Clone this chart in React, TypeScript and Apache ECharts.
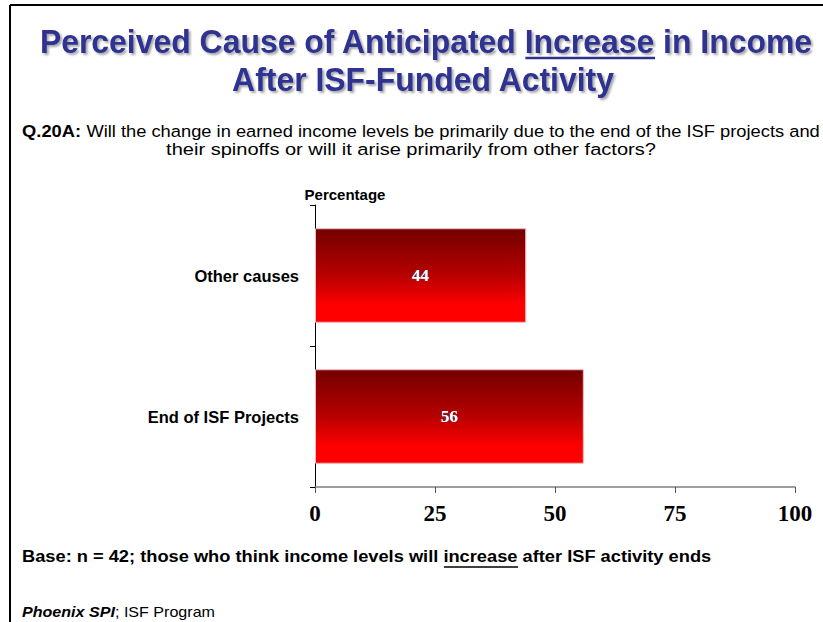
import React, { useEffect, useRef } from "react";
import * as echarts from "echarts";

const categories = ["Other causes", "End of ISF Projects"];
const values = [44, 56];
const xTicks = [0, 25, 50, 75, 100];

const TITLE_1_PRE = "Perceived Cause of Anticipated ";
const TITLE_1_U = "Increase";
const TITLE_1_POST = " in Income";
const TITLE_2 = "After ISF-Funded Activity";
const Q_BOLD = "Q.20A:";
const Q_LINE1 = " Will the change in earned income levels be primarily due to the end of the ISF projects and";
const Q_LINE2 = "their spinoffs or will it arise primarily from other factors?";
const BASE_PRE = "Base: n = 42; those who think income levels will ";
const BASE_U = "increase";
const BASE_POST = " after ISF activity ends";
const FOOT_BOLD = "Phoenix SPI";
const FOOT_REST = "; ISF Program";

const SANS = 'Arial, "Liberation Sans", sans-serif';
const SERIF = '"Liberation Serif", "Times New Roman", serif';

function measure(text: string, font: string): number {
  const c = document.createElement("canvas");
  const ctx = c.getContext("2d");
  if (!ctx) return text.length * 8;
  ctx.font = font;
  return ctx.measureText(text).width;
}

export default function App() {
  const ref = useRef<HTMLDivElement>(null);
  useEffect(() => {
    if (!ref.current) return;
    const chart = echarts.init(ref.current, null, { renderer: "svg" });

    const titleColor = "#2e3090";
    const titleSize = 34;
    const titleFontCss = `bold ${titleSize}px ${SANS}`;
    const t1Full = TITLE_1_PRE + TITLE_1_U + TITLE_1_POST;
    const t1W = measure(t1Full, titleFontCss);
    const tScale = 774 / t1W;
    const t1Pre = measure(TITLE_1_PRE, titleFontCss) * tScale;
    const t1U = measure(TITLE_1_U, titleFontCss) * tScale;
    const titleCx = 426;
    const uX1 = titleCx - (t1W * tScale) / 2 + t1Pre;

    const qSize = 17;
    const qW =
      measure(Q_BOLD, `bold ${qSize}px ${SANS}`) + measure(Q_LINE1, `${qSize}px ${SANS}`);
    const qScale = 798 / qW;
    const q2Scale = 490 / measure(Q_LINE2, `${qSize}px ${SANS}`);

    const baseSize = 17;
    const baseFontCss = `bold ${baseSize}px ${SANS}`;
    const baseFull = BASE_PRE + BASE_U + BASE_POST;
    const bScale = 690 / measure(baseFull, baseFontCss);
    const bPre = measure(BASE_PRE, baseFontCss) * bScale;
    const bU = measure(BASE_U, baseFontCss) * bScale;
    const baseX = 22;

    const fSize = 14;
    const fW =
      measure(FOOT_BOLD, `italic bold ${fSize}px ${SANS}`) + measure(FOOT_REST, `${fSize}px ${SANS}`);
    const fScale = 193 / fW;

    const titleShadow = {
      textShadowColor: "rgba(0,0,0,0.35)",
      textShadowOffsetX: 2,
      textShadowOffsetY: 2,
      textShadowBlur: 2,
    };

    chart.setOption({
      animation: false,
      grid: { left: 315, top: 205, right: 28, bottom: 135, containLabel: false },
      xAxis: {
        type: "value",
        min: 0,
        max: 100,
        interval: 25,
        axisLine: { show: true, lineStyle: { color: "#7f7f7f", width: 1.5 } },
        axisTick: { show: true, length: 6, lineStyle: { color: "#555", width: 1 } },
        splitLine: { show: false },
        axisLabel: {
          margin: 15,
          color: "#000",
          fontFamily: SERIF,
          fontWeight: "bold",
          fontSize: 23,
          formatter: (v: number) => (xTicks.includes(v) ? String(v) : ""),
        },
      },
      yAxis: {
        type: "category",
        data: categories,
        inverse: true,
        axisLine: { show: true, lineStyle: { color: "#000", width: 1 } },
        axisTick: { show: true, length: 5, lineStyle: { color: "#000" } },
        axisLabel: {
          margin: 16,
          color: "#000",
          fontFamily: SANS,
          fontWeight: "bold",
          fontSize: 16.5,
        },
      },
      series: [
        {
          type: "bar",
          data: values,
          barWidth: "67%",
          itemStyle: {
            color: new echarts.graphic.LinearGradient(0, 0, 0, 1, [
              { offset: 0, color: "#730000" },
              { offset: 0.5, color: "#b80000" },
              { offset: 0.82, color: "#ff0000" },
              { offset: 1, color: "#ff0000" },
            ]),
            borderColor: "#f2b8b8",
            borderWidth: 1,
          },
          label: {
            show: true,
            position: "inside",
            color: "#fff",
            fontFamily: SERIF,
            fontWeight: "bold",
            fontSize: 17,
            textShadowColor: "#3050a0",
            textShadowBlur: 1,
            textShadowOffsetX: -1,
            textShadowOffsetY: 0,
          },
        },
      ],
      graphic: [
        { type: "line", shape: { x1: 10, y1: 5, x2: 823, y2: 5 }, style: { stroke: "#000", lineWidth: 2 } },
        { type: "line", shape: { x1: 10, y1: 5, x2: 10, y2: 622 }, style: { stroke: "#000", lineWidth: 2 } },
        {
          type: "text",
          x: titleCx,
          y: 41,
          scaleX: tScale,
          style: {
            text: t1Full,
            align: "center",
            verticalAlign: "middle",
            font: titleFontCss,
            fill: titleColor,
            ...titleShadow,
          },
        },
        {
          type: "line",
          shape: { x1: uX1, y1: 58, x2: uX1 + t1U, y2: 58 },
          style: { stroke: titleColor, lineWidth: 2.5 },
        },
        {
          type: "text",
          x: 423,
          y: 79,
          scaleX: tScale,
          style: {
            text: TITLE_2,
            align: "center",
            verticalAlign: "middle",
            font: titleFontCss,
            fill: titleColor,
            ...titleShadow,
          },
        },
        {
          type: "text",
          x: 421,
          y: 131,
          scaleX: qScale,
          style: {
            text: "{b|" + Q_BOLD + "}" + Q_LINE1,
            align: "center",
            verticalAlign: "middle",
            fontFamily: SANS,
            fontSize: qSize,
            fill: "#000",
            rich: { b: { fontWeight: "bold", fontFamily: SANS, fontSize: qSize, fill: "#000" } },
          },
        },
        {
          type: "text",
          x: 411,
          y: 149,
          scaleX: q2Scale,
          style: {
            text: Q_LINE2,
            align: "center",
            verticalAlign: "middle",
            fontFamily: SANS,
            fontSize: qSize,
            fill: "#000",
          },
        },
        {
          type: "text",
          x: 345,
          y: 194,
          style: {
            text: "Percentage",
            align: "center",
            verticalAlign: "middle",
            fontFamily: SANS,
            fontWeight: "bold",
            fontSize: 15,
            fill: "#000",
          },
        },
        {
          type: "text",
          x: baseX,
          y: 556,
          scaleX: bScale,
          style: {
            text: baseFull,
            align: "left",
            verticalAlign: "middle",
            font: baseFontCss,
            fill: "#000",
          },
        },
        {
          type: "line",
          shape: { x1: baseX + bPre, y1: 567, x2: baseX + bPre + bU, y2: 567 },
          style: { stroke: "#000", lineWidth: 1.5 },
        },
        {
          type: "text",
          x: 22,
          y: 612,
          scaleX: fScale,
          style: {
            text: "{b|" + FOOT_BOLD + "}" + FOOT_REST,
            align: "left",
            verticalAlign: "middle",
            fontFamily: SANS,
            fontSize: fSize,
            fill: "#000",
            rich: {
              b: { fontWeight: "bold", fontStyle: "italic", fontFamily: SANS, fontSize: fSize, fill: "#000" },
            },
          },
        },
      ],
    });
    return () => chart.dispose();
  }, []);
  return (
    <div
      ref={ref}
      style={{ position: "absolute", left: 0, top: 0, width: 823, height: 622, background: "#fff" }}
    />
  );
}
